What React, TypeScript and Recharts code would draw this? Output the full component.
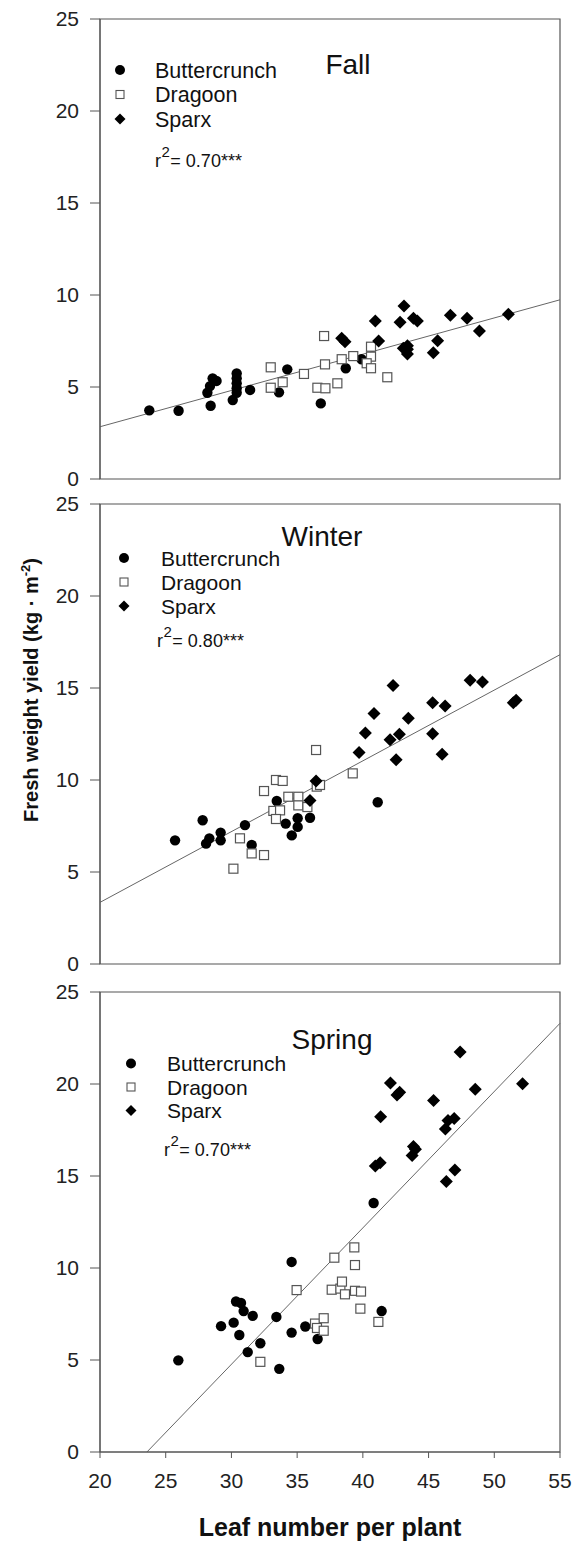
import React from 'react';
import { ScatterChart, Scatter, XAxis, YAxis, ReferenceLine, ReferenceArea } from 'recharts';

type Pt = { x: number; y: number };

const FONT = '"Liberation Sans", Arial, Helvetica, sans-serif';
const AXIS = '#555';

const xTicks = [20, 25, 30, 35, 40, 45, 50, 55];
const yTicks = [0, 5, 10, 15, 20, 25];
const varieties = ['Buttercrunch', 'Dragoon', 'Sparx'];
const seasons = ['Fall', 'Winter', 'Spring'];
const r2Labels = ['0.70***', '0.80***', '0.70***'];

// Fall
const fallButtercrunch: Pt[] = [
    { x: 23.75, y: 3.73 }, { x: 25.98, y: 3.71 }, { x: 28.42, y: 3.98 }, { x: 28.17, y: 4.69 },
    { x: 28.57, y: 5.47 }, { x: 28.87, y: 5.33 }, { x: 28.37, y: 5.05 }, { x: 30.4, y: 5.74 },
    { x: 30.4, y: 5.47 }, { x: 30.4, y: 5.2 }, { x: 30.4, y: 4.93 }, { x: 30.4, y: 4.69 },
    { x: 30.1, y: 4.29 }, { x: 31.42, y: 4.84 }, { x: 34.25, y: 5.96 }, { x: 33.62, y: 4.71 },
    { x: 36.8, y: 4.11 }, { x: 38.7, y: 6.02 }, { x: 39.9, y: 6.51 },
];
const fallDragoon: Pt[] = [
    { x: 32.99, y: 6.07 }, { x: 32.99, y: 4.96 }, { x: 33.9, y: 5.26 }, { x: 35.52, y: 5.71 },
    { x: 37.05, y: 7.77 }, { x: 37.12, y: 6.23 }, { x: 36.54, y: 4.96 }, { x: 37.15, y: 4.93 },
    { x: 38.06, y: 5.2 }, { x: 38.39, y: 6.51 }, { x: 39.27, y: 6.68 }, { x: 40.62, y: 7.19 },
    { x: 40.62, y: 6.65 }, { x: 40.29, y: 6.29 }, { x: 40.62, y: 6.02 }, { x: 41.86, y: 5.53 },
];
const fallSparx: Pt[] = [
    { x: 38.39, y: 7.65 }, { x: 38.64, y: 7.46 }, { x: 40.95, y: 8.59 }, { x: 41.2, y: 7.5 },
    { x: 43.13, y: 9.4 }, { x: 42.83, y: 8.52 }, { x: 43.85, y: 8.73 }, { x: 44.15, y: 8.59 },
    { x: 43.39, y: 7.24 }, { x: 43.39, y: 7.05 }, { x: 43.39, y: 6.79 }, { x: 43.08, y: 7.1 },
    { x: 45.69, y: 7.52 }, { x: 45.36, y: 6.86 }, { x: 46.66, y: 8.9 }, { x: 47.93, y: 8.73 },
    { x: 48.87, y: 8.04 }, { x: 51.07, y: 8.95 },
];
const fallFit: Pt[] = [{ x: 20, y: 2.84 }, { x: 55, y: 9.74 }];

// Winter
const winterButtercrunch: Pt[] = [
    { x: 25.71, y: 6.72 }, { x: 27.81, y: 7.81 }, { x: 28.07, y: 6.54 }, { x: 28.32, y: 6.83 },
    { x: 29.18, y: 7.14 }, { x: 29.18, y: 6.72 }, { x: 31.03, y: 7.55 }, { x: 31.54, y: 6.47 },
    { x: 33.45, y: 8.86 }, { x: 34.13, y: 7.63 }, { x: 34.59, y: 6.99 }, { x: 35.04, y: 7.92 },
    { x: 35.04, y: 7.45 }, { x: 35.98, y: 7.95 }, { x: 41.13, y: 8.79 },
];
const winterDragoon: Pt[] = [
    { x: 30.15, y: 5.18 }, { x: 30.65, y: 6.83 }, { x: 31.54, y: 6.01 }, { x: 32.48, y: 5.92 },
    { x: 32.48, y: 9.4 }, { x: 33.39, y: 10.0 }, { x: 33.9, y: 9.95 }, { x: 33.19, y: 8.32 },
    { x: 33.7, y: 8.35 }, { x: 33.39, y: 7.88 }, { x: 34.33, y: 9.09 }, { x: 35.09, y: 9.09 },
    { x: 35.09, y: 8.62 }, { x: 35.78, y: 8.53 }, { x: 36.44, y: 11.63 }, { x: 36.49, y: 9.64 },
    { x: 36.74, y: 9.73 }, { x: 39.23, y: 10.36 },
];
const winterSparx: Pt[] = [
    { x: 36.44, y: 9.95 }, { x: 35.98, y: 8.89 }, { x: 39.71, y: 11.5 }, { x: 40.19, y: 12.55 },
    { x: 40.85, y: 13.62 }, { x: 42.3, y: 15.14 }, { x: 42.07, y: 12.19 }, { x: 42.78, y: 12.48 },
    { x: 42.53, y: 11.1 }, { x: 43.46, y: 13.35 }, { x: 45.31, y: 14.2 }, { x: 46.26, y: 14.02 },
    { x: 45.31, y: 12.52 }, { x: 46.03, y: 11.4 }, { x: 48.16, y: 15.42 }, { x: 49.1, y: 15.33 },
    { x: 51.45, y: 14.2 }, { x: 51.66, y: 14.33 },
];
const winterFit: Pt[] = [{ x: 20, y: 3.35 }, { x: 55, y: 16.81 }];

// Spring
const springButtercrunch: Pt[] = [
    { x: 25.96, y: 4.98 }, { x: 29.21, y: 6.84 }, { x: 30.17, y: 7.03 }, { x: 30.35, y: 8.18 },
    { x: 30.73, y: 8.1 }, { x: 30.93, y: 7.66 }, { x: 30.6, y: 6.36 }, { x: 31.62, y: 7.4 },
    { x: 31.24, y: 5.43 }, { x: 32.2, y: 5.91 }, { x: 33.42, y: 7.34 }, { x: 33.64, y: 4.52 },
    { x: 34.58, y: 10.33 }, { x: 34.58, y: 6.49 }, { x: 35.62, y: 6.82 }, { x: 36.56, y: 6.14 },
    { x: 40.82, y: 13.53 }, { x: 41.43, y: 7.66 },
];
const springDragoon: Pt[] = [
    { x: 32.2, y: 4.9 }, { x: 34.96, y: 8.8 }, { x: 36.36, y: 6.98 }, { x: 36.51, y: 6.74 },
    { x: 37.02, y: 7.27 }, { x: 37.02, y: 6.59 }, { x: 37.83, y: 10.56 }, { x: 37.63, y: 8.82 },
    { x: 38.29, y: 8.88 }, { x: 38.41, y: 9.26 }, { x: 38.64, y: 8.57 }, { x: 39.35, y: 11.12 },
    { x: 39.4, y: 10.16 }, { x: 39.4, y: 8.76 }, { x: 39.86, y: 8.72 }, { x: 39.81, y: 7.79 },
    { x: 41.18, y: 7.07 },
];
const springSparx: Pt[] = [
    { x: 40.95, y: 15.55 }, { x: 41.32, y: 15.72 }, { x: 41.35, y: 18.22 }, { x: 42.1, y: 20.05 },
    { x: 42.6, y: 19.4 }, { x: 42.8, y: 19.55 }, { x: 45.38, y: 19.1 }, { x: 43.85, y: 16.6 },
    { x: 44.0, y: 16.45 }, { x: 43.75, y: 16.12 }, { x: 46.28, y: 17.55 }, { x: 46.48, y: 18.02 },
    { x: 46.95, y: 18.12 }, { x: 46.35, y: 14.7 }, { x: 47.0, y: 15.33 }, { x: 47.4, y: 21.74 },
    { x: 48.55, y: 19.72 }, { x: 52.15, y: 20.02 },
];
const springFit: Pt[] = [{ x: 23.57, y: 0 }, { x: 55, y: 23.3 }];

const Circle = (p: any) => <circle cx={p.cx} cy={p.cy} r={5.2} fill="#000" />;
const Square = (p: any) => (
    <rect x={p.cx - 4.5} y={p.cy - 4.5} width={9} height={9} fill="#fff" stroke="#555" strokeWidth={1.2} />
);
const Diamond = (p: any) => (
    <polygon
        points={`${p.cx},${p.cy - 6.5} ${p.cx + 6.5},${p.cy} ${p.cx},${p.cy + 6.5} ${p.cx - 6.5},${p.cy}`}
        fill="#000"
    />
);

type PanelProps = {
    top: number;
    height: number;
    margin: { top: number; right: number; bottom: number; left: number };
    bc: Pt[];
    dr: Pt[];
    sp: Pt[];
    fit: Pt[];
    showX?: boolean;
};

const tickStyle = { fill: '#222', fontSize: 21, fontFamily: FONT };

const Panel: React.FC<PanelProps> = ({ top, height, margin, bc, dr, sp, fit, showX }) => (
    <div style={{ position: 'absolute', left: 0, top }}>
        <ScatterChart width={572} height={height} margin={margin} style={{ fontFamily: FONT }}>
            <XAxis
                type="number"
                dataKey="x"
                domain={[20, 55]}
                ticks={xTicks}
                interval={0}
                hide={!showX}
                height={40}
                tickSize={6}
                tickMargin={15}
                stroke={AXIS}
                tick={tickStyle}
            />
            <YAxis
                type="number"
                dataKey="y"
                domain={[0, 25]}
                ticks={yTicks}
                interval={0}
                width={100}
                tickSize={10}
                tickMargin={11}
                stroke={AXIS}
                tick={tickStyle}
            />
            <ReferenceArea x1={20} x2={55} y1={0} y2={25} fill="none" fillOpacity={0} stroke={AXIS} strokeWidth={1.2} />
            <ReferenceLine segment={fit} stroke="#666" strokeWidth={1} />
            <Scatter name={varieties[0]} data={bc} shape={Circle} isAnimationActive={false} />
            <Scatter name={varieties[1]} data={dr} shape={Square} isAnimationActive={false} />
            <Scatter name={varieties[2]} data={sp} shape={Diamond} isAnimationActive={false} />
        </ScatterChart>
    </div>
);

const LegendBlock = ({ mx, tx, rows, fs }: { mx: number; tx: number; rows: number[]; fs: number }) => (
    <g>
        <circle cx={mx} cy={rows[0]} r={5} fill="#000" />
        <rect x={mx - 4} y={rows[1] - 4} width={8} height={8} fill="#fff" stroke="#555" strokeWidth={1.1} />
        <polygon
            points={`${mx},${rows[2] - 5.5} ${mx + 5.5},${rows[2]} ${mx},${rows[2] + 5.5} ${mx - 5.5},${rows[2]}`}
            fill="#000"
        />
        {varieties.map((v, i) => (
            <text key={v} x={tx} y={rows[i] + 7.6} fontSize={fs} fill="#111">
                {v}
            </text>
        ))}
    </g>
);

const R2 = ({ x, y, value }: { x: number; y: number; value: string }) => (
    <text x={x} y={y} fontSize={18} fill="#111">
        r<tspan dx={0.5} dy={-10} fontSize={15}>2</tspan>
        <tspan dx={0.5} dy={10} fontSize={18}>= {value}</tspan>
    </text>
);

export default function App() {
    return (
        <div style={{ position: 'absolute', left: 0, top: 0, width: 572, height: 1541, background: '#fff' }}>
            <Panel top={0} height={490} margin={{ top: 19, right: 12, bottom: 11, left: 0 }}
                bc={fallButtercrunch} dr={fallDragoon} sp={fallSparx} fit={fallFit} />
            <Panel top={490} height={490} margin={{ top: 14, right: 12, bottom: 16, left: 0 }}
                bc={winterButtercrunch} dr={winterDragoon} sp={winterSparx} fit={winterFit} />
            <Panel top={980} height={561} margin={{ top: 12, right: 12, bottom: 49, left: 0 }}
                bc={springButtercrunch} dr={springDragoon} sp={springSparx} fit={springFit} showX />
            <svg
                width={572}
                height={1541}
                style={{ position: 'absolute', left: 0, top: 0, pointerEvents: 'none', fontFamily: FONT }}
            >
                <text x={348} y={74} fontSize={28} textAnchor="middle" fill="#111">{seasons[0]}</text>
                <text x={322} y={546} fontSize={28} textAnchor="middle" fill="#111">{seasons[1]}</text>
                <text x={332} y={1049} fontSize={28} textAnchor="middle" fill="#111">{seasons[2]}</text>

                <LegendBlock mx={120} tx={155} rows={[70, 94.5, 119]} fs={21.5} />
                <LegendBlock mx={124} tx={161} rows={[558, 582, 606]} fs={21} />
                <LegendBlock mx={131} tx={167} rows={[1063.5, 1087, 1110.5]} fs={21} />

                <R2 x={155} y={167} value={r2Labels[0]} />
                <R2 x={157} y={647} value={r2Labels[1]} />
                <R2 x={164} y={1156} value={r2Labels[2]} />

                <text x={38} y={690} fontSize={20} fontWeight="bold" textAnchor="middle" fill="#111"
                    transform="rotate(-90 38 690)">
                    Fresh weight yield (kg · m<tspan dy={-8} fontSize={13}>-2</tspan><tspan dy={8}>)</tspan>
                </text>
                <text x={330} y={1536} fontSize={25} fontWeight="bold" textAnchor="middle" fill="#111">
                    Leaf number per plant
                </text>
            </svg>
        </div>
    );
}
